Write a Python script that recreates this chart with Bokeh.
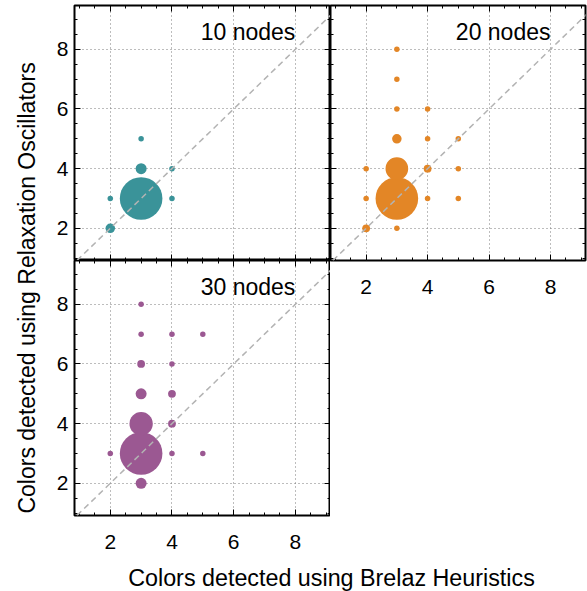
import math
from bokeh.plotting import figure
from bokeh.models import Range1d, LinearAxis, FixedTicker, Grid, Slope, Label, ColumnDataSource
from bokeh.layouts import row, column
from bokeh.embed import file_html
from bokeh.resources import INLINE

# ---------------- data ----------------
panel_titles = ["10 nodes", "20 nodes", "30 nodes"]
panel_colors = ["#3a9399", "#e38626", "#9b5892"]
x_label = "Colors detected using Brelaz Heuristics"
y_label = "Colors detected using Relaxation Oscillators"

major_ticks = [2, 4, 6, 8]
minor_ticks = [1.0, 1.5, 2.0, 2.5, 3.0, 3.5, 4.0, 4.5, 5.0, 5.5, 6.0, 6.5, 7.0, 7.5, 8.0, 8.5, 9.0]

# (Brelaz colors, oscillator colors, number of graphs)
x10 = [2, 2, 3, 3, 3, 4, 4]
y10 = [2, 3, 3, 4, 5, 3, 4]
n10 = [3, 1, 60, 4, 1, 1, 1]

x20 = [2, 2, 2, 3, 3, 3, 3, 3, 3, 3, 4, 4, 4, 4, 5, 5, 5]
y20 = [2, 3, 4, 2, 3, 4, 5, 6, 7, 8, 3, 4, 5, 6, 3, 4, 5]
n20 = [2, 1, 1, 1, 60, 17, 3, 1, 1, 1, 1, 2, 1, 1, 1, 1, 1]

x30 = [2, 3, 3, 3, 3, 3, 3, 3, 4, 4, 4, 4, 4, 5, 5]
y30 = [3, 2, 3, 4, 5, 6, 7, 8, 3, 4, 5, 6, 7, 3, 7]
n30 = [1, 4, 60, 18, 4, 2, 1, 1, 1, 2, 2, 1, 1, 1, 1]

# ---------------- style ----------------
FONT = "Liberation Sans"
X0, X1 = 0.84, 9.14
Y0, Y1 = 0.92, 9.47
FRAME_W1, FRAME_W2, FRAME_H = 256, 255, 255
TOP_B, LEFT_B, BOTTOM_B, RIGHT_B = 5, 30, 43, 2
YFIG_W = 44


def strip_default_grids(p):
    p.center = [r for r in p.center if not isinstance(r, Grid)]


def make_panel(xs, ys, ns, color, title, show_x, show_y, width, height,
               mb_left, mb_right, mb_top, mb_bottom):
    p = figure(width=width, height=height,
               x_range=Range1d(X0, X1), y_range=Range1d(Y0, Y1),
               output_backend="svg", toolbar_location=None,
               x_axis_location=None, y_axis_location=None,
               min_border_left=mb_left, min_border_right=mb_right,
               min_border_top=mb_top, min_border_bottom=mb_bottom,
               background_fill_color="white", border_fill_color="white",
               outline_line_color="black", outline_line_width=2)
    strip_default_grids(p)
    ticker = FixedTicker(ticks=major_ticks, minor_ticks=minor_ticks)
    for dim in (0, 1):
        p.add_layout(Grid(dimension=dim, ticker=ticker, grid_line_color="#7a7a7a",
                          grid_line_dash="1 3", grid_line_width=1))
    specs = [("below", Y0, show_x), ("above", Y1, False),
             ("left", X0, show_y), ("right", X1, False)]
    for side, loc, show in specs:
        ax = LinearAxis(ticker=ticker,
                        axis_line_color=None,
                        major_tick_in=6, major_tick_out=0,
                        minor_tick_in=3, minor_tick_out=0,
                        major_tick_line_color="black", minor_tick_line_color="black",
                        major_label_text_font=FONT,
                        major_label_text_font_size="21px",
                        major_label_standoff=(19 if side == "below" else 6))
        if show:
            ax.major_label_text_color = "black"
        else:
            ax.fixed_location = loc
            ax.major_label_text_color = None
        p.add_layout(ax, side)
    p.add_layout(Slope(gradient=1, y_intercept=0, line_color="#b3b3b3",
                       line_dash="6 4", line_width=1.5))
    src = ColumnDataSource(dict(x=xs, y=ys, n=ns,
                                d=[5.5 * math.sqrt(v) for v in ns]))
    p.scatter("x", "y", size="d", source=src, fill_color=color,
              line_color=None, marker="circle")
    p.add_layout(Label(x=8.0, y=8.57, text=title, text_align="right",
                       text_baseline="middle", text_font=FONT,
                       text_font_size="23px", text_color="black"))
    return p


p1 = make_panel(x10, y10, n10, panel_colors[0], panel_titles[0], False, True,
                LEFT_B + FRAME_W1, TOP_B + FRAME_H, LEFT_B, 0, TOP_B, 0)
p2 = make_panel(x20, y20, n20, panel_colors[1], panel_titles[1], True, False,
                FRAME_W2 + RIGHT_B, TOP_B + FRAME_H + BOTTOM_B, 0, RIGHT_B, TOP_B, BOTTOM_B)
p3 = make_panel(x30, y30, n30, panel_colors[2], panel_titles[2], True, True,
                LEFT_B + FRAME_W1, FRAME_H + BOTTOM_B, LEFT_B, 0, 0, BOTTOM_B)

left_h = (TOP_B + FRAME_H) + (FRAME_H + BOTTOM_B)
yfig = figure(width=YFIG_W, height=left_h, x_range=Range1d(0, YFIG_W), y_range=Range1d(0, left_h),
              output_backend="svg", toolbar_location=None, min_border=0,
              x_axis_location=None, y_axis_location=None, outline_line_color=None)
strip_default_grids(yfig)
yfig.add_layout(Label(x=26, y=left_h - 309, text=y_label, angle=math.pi / 2,
                      text_align="center", text_baseline="middle", text_font=FONT,
                      text_font_size="23px", text_color="black"))

total_w = YFIG_W + LEFT_B + FRAME_W1 + FRAME_W2 + RIGHT_B
xfig_h = 591 - left_h
xfig = figure(width=total_w, height=xfig_h, x_range=Range1d(0, total_w), y_range=Range1d(0, xfig_h),
              output_backend="svg", toolbar_location=None, min_border=0,
              x_axis_location=None, y_axis_location=None, outline_line_color=None)
strip_default_grids(xfig)
xfig.add_layout(Label(x=331, y=xfig_h - 19, text=x_label, text_align="center",
                      text_baseline="middle", text_font=FONT,
                      text_font_size="23.3px", text_color="black"))

layout = column(row(yfig, column(p1, p3), p2), xfig)

open("out.html", "w").write(file_html(layout, INLINE))
